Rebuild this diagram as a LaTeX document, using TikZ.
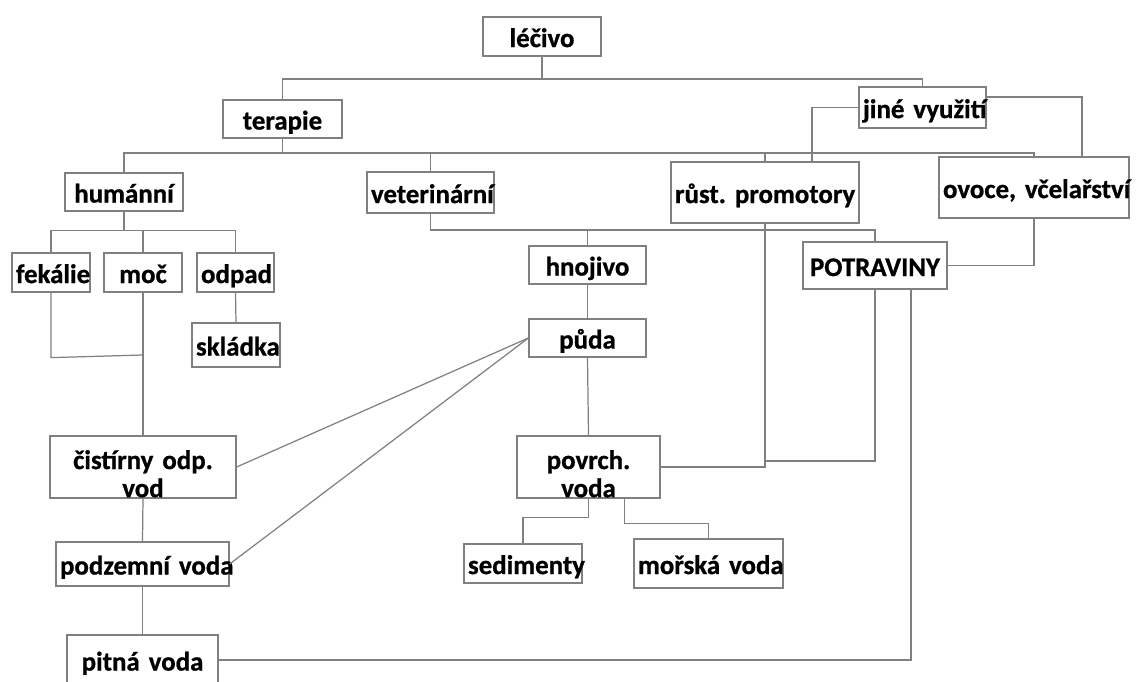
\documentclass[tikz,border=0pt]{standalone}
\usepackage{fontspec}
\setmainfont{Carlito}[WordSpace=0.6, BoldFeatures={FakeBold=0.8}]
\usetikzlibrary{calc}
\definecolor{linegray}{RGB}{128,128,128}
\hyphenpenalty=10000
\exhyphenpenalty=10000
\frenchspacing
\tikzset{
  box/.style 2 args={rectangle, draw=linegray, line width=0.7pt, fill=white,
             minimum width=#1*0.2mm, minimum height=#2*0.2mm,
             text width=#1*0.2mm-1.6mm, inner xsep=0.8mm, inner ysep=0pt,
             text height=12pt, text depth=0pt,
             align=center, font=\fontsize{15.3}{16}\selectfont\bfseries},
  twoline/.style={text height=12pt, text depth=9.7pt},
  link/.style={draw=linegray, line width=0.7pt},
}
\begin{document}
\begin{tikzpicture}[x=0.2mm, y=-0.2mm]
  \useasboundingbox (0,0) rectangle (1137,682);
  \node[box={118}{39}] (lecivo) at (542,36.5) {léčivo};
  \node[box={119}{38}] (terapie) at (282.5,119) {terapie};
  \node[box={127}{41}] (jine) at (922.5,107.5) {\mbox{jiné využití}};
  \node[box={118}{38}] (humanni) at (124,192) {humánní};
  \node[box={127}{41}] (veter) at (430.5,192.5) {veterinární};
  \node[box={188}{61}] (rust) at (765,192.5) {\mbox{růst. promotory}};
  \node[box={190}{61}] (ovoce) at (1034,187.5) {\mbox{ovoce, včelařství}};
  \node[box={78}{39}] (fekalie) at (51,272.5) {fekálie};
  \node[box={78}{39}] (moc) at (143,272.5) {moč};
  \node[box={77}{39}] (odpad) at (235.5,272.5) {odpad};
  \node[box={88}{44}] (skladka) at (236,345) {skládka};
  \node[box={117}{38}] (hnojivo) at (587.5,265) {hnojivo};
  \node[box={117}{38}] (puda) at (587.5,338) {půda};
  \node[box={144}{47}] (potraviny) at (875,265.5) {POTRAVINY};
  \node[box={186}{62}, twoline] (cistirny) at (143,467) {čistírny odp.\\vod};
  \node[box={143}{62}, twoline] (povrch) at (588.5,467) {povrch.\\voda};
  \node[box={173}{44}] (podzemni) at (142.5,564) {\mbox{podzemní voda}};
  \node[box={118}{39}] (sedimenty) at (523,563.5) {sedimenty};
  \node[box={149}{49}] (morska) at (708.5,563.5) {\mbox{mořská voda}};
  \node[box={151}{50}] (pitna) at (142.5,660) {\mbox{pitná voda}};

  % stromek nahore
  \coordinate (j1) at (542,79);
  \draw[link] (lecivo.south) -- (j1);
  \draw[link] (terapie.north) |- (j1) -| (jine.north);
  \coordinate (j2) at (282.5,153);
  \draw[link] (terapie.south) -- (j2);
  \draw[link] (humanni.north) |- (j2) -| (ovoce.north);
  \draw[link] (veter.north) -- (veter.north |- j2);
  \draw[link] (rust.north) -- (rust.north |- j2);
  \draw[link] ($(jine.east)+(0,-10.5)$) -| ($(ovoce.north)+(48,0)$);
  \draw[link] (jine.west) -| ($(rust.north)+(47,0)$);
  \draw[link] (humanni.south) -- ++(0,19) coordinate (j3);
  \draw[link] (fekalie.north) |- (j3) -| (odpad.north);
  \draw[link] (moc.north) -- (moc.north |- j3);
  \coordinate (j4) at (430.5,230);
  \draw[link] (veter.south) -- (j4) -| (potraviny.north);
  \draw[link] (hnojivo.north) -- (hnojivo.north |- j4);

  % toky dolu
  \draw[link] (rust.south) |- (povrch.east);
  \draw[link] (potraviny.south) |- ($(rust.south |- povrch.east)+(0,-6)$);
  \draw[link] (ovoce.south) |- (potraviny.east);
  \coordinate (j5) at (143,355);
  \draw[link] (fekalie.south) -- ++(0,65) -- (j5);
  \draw[link] (moc.south) -- (cistirny.north);
  \draw[link] (odpad.south) -- (skladka.north);
  \draw[link] (hnojivo.south) -- (puda.north);
  \draw[link] (puda.south) -- (povrch.north);
  \draw[link] (cistirny.south) -- (podzemni.north);
  \draw[link] (podzemni.south) -- (pitna.north);
  \draw[link] (cistirny.east) -- (puda.west);
  \draw[link] (podzemni.east) -- (puda.west);
  \draw[link] (pitna.east) -| ($(potraviny.south)+(36,0)$);
  \draw[link] (povrch.south) -- ++(0,19) -| (sedimenty.north);
  \draw[link] ($(povrch.south)+(36,0)$) -- ++(0,25) -| (morska.north);
\end{tikzpicture}
\end{document}
